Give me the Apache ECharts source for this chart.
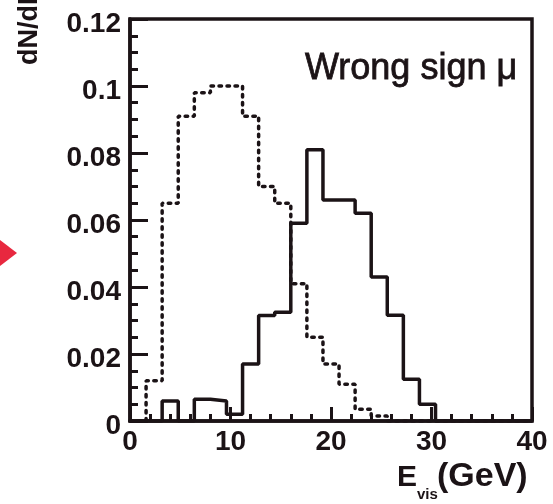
<!DOCTYPE html>
<html>
<head>
<meta charset="utf-8">
<script src="https://cdn.jsdelivr.net/npm/echarts@6/dist/echarts.min.js"></script>
<style>
html,body{margin:0;padding:0;background:#fff;}
#chart{width:553px;height:504px;}
</style>
</head>
<body>
<div id="chart"></div>
<script>
// Histogram bin edges (GeV)
const binEdges = [0, 1.6, 3.2, 4.8, 6.4, 8.0, 9.6, 11.2, 12.8, 14.4, 16.0, 17.6, 19.2, 20.8, 22.4, 24.0, 25.6, 27.2, 28.8, 30.4, 32.0, 33.6, 35.2, 36.8, 38.4, 40.0];
// Dashed histogram values per bin
const dashedValues = [0, 0.012, 0.065, 0.091, 0.098, 0.100, 0.100, 0.091, 0.070, 0.065, 0.041, 0.025, 0.017, 0.011, 0.0035, 0.0015, 0, 0, 0, 0, 0, 0, 0, 0, 0];
// Solid histogram values per bin
const solidValues = [0, 0, 0.006, 0, 0.0065, 0.006, 0.002, 0.017, 0.0315, 0.0325, 0.059, 0.081, 0.066, 0.066, 0.062, 0.043, 0.0316, 0.0125, 0.005, 0, 0, 0, 0, 0, 0];
// Axis tick labels
const xTickLabels = ['0', '10', '20', '30', '40'];
const yTickLabels = ['0', '0.02', '0.04', '0.06', '0.08', '0.1', '0.12'];

const INK = '#1b1316';

function stepData(vals) {
  const d = [];
  for (let i = 0; i < vals.length; i++) d.push([binEdges[i], vals[i]]);
  d.push([binEdges[vals.length], 0]);
  return d;
}

const chart = echarts.init(document.getElementById('chart'), null, {renderer: 'canvas'});
const option = {
  animation: false,
  backgroundColor: '#ffffff',
  grid: {
    left: 130, right: 21, top: 19, bottom: 83,
    show: true, borderColor: INK, borderWidth: 3.5, backgroundColor: 'transparent'
  },
  xAxis: {
    type: 'value', min: 0, max: 40, interval: 10,
    axisLine: {show: true, lineStyle: {color: INK, width: 3.5}},
    axisTick: {show: true, inside: true, length: 14, lineStyle: {color: INK, width: 3}},
    minorTick: {show: true, splitNumber: 5, length: 7, lineStyle: {color: INK, width: 3}},
    splitLine: {show: false},
    axisLabel: {
      margin: 7, color: INK, fontFamily: 'Liberation Sans', fontWeight: 'bold', fontSize: 28,
      formatter: function (v) { return xTickLabels[Math.round(v / 10)]; }
    }
  },
  yAxis: {
    type: 'value', min: 0, max: 0.12, interval: 0.02,
    axisLine: {show: true, lineStyle: {color: INK, width: 3.5}},
    axisTick: {show: true, inside: true, length: 18, lineStyle: {color: INK, width: 3}},
    minorTick: {show: true, splitNumber: 4, length: 8, lineStyle: {color: INK, width: 3}},
    splitLine: {show: false},
    axisLabel: {
      margin: 9, color: INK, fontFamily: 'Liberation Sans', fontWeight: 'bold', fontSize: 28,
      verticalAlign: 'top', lineHeight: 10,
      formatter: function (v) { return yTickLabels[Math.round(v / 0.02)]; }
    }
  },
  series: [
    {
      name: 'dashed', type: 'line', step: 'end', symbol: 'none',
      data: stepData(dashedValues),
      lineStyle: {color: INK, width: 3.5, type: [2.5, 5.5], cap: 'round'},
      z: 3
    },
    {
      name: 'solid', type: 'line', step: 'end', symbol: 'none',
      data: stepData(solidValues),
      lineStyle: {color: INK, width: 3.5, type: 'solid'},
      z: 4
    }
  ],
  graphic: [
    {
      type: 'text', x: 305, y: 69.5,
      style: {text: 'Wrong sign \u03bc', fill: INK, stroke: INK, lineWidth: 0.8, font: '36px "Liberation Sans"', textAlign: 'left', textVerticalAlign: 'middle'}
    },
    {
      type: 'text', x: 30, y: 65, rotation: Math.PI / 2,
      style: {text: 'dN/dE', fill: INK, font: 'bold 27px "Liberation Sans"', textAlign: 'left', textVerticalAlign: 'middle'}
    },
    {
      type: 'text', x: 397, y: 477.5,
      style: {text: 'E', fill: INK, font: 'bold 30px "Liberation Sans"', textAlign: 'left', textVerticalAlign: 'middle'}
    },
    {
      type: 'text', x: 417, y: 495,
      style: {text: 'vis', fill: INK, font: 'bold 15px "Liberation Sans"', textAlign: 'left', textVerticalAlign: 'middle'}
    },
    {
      type: 'text', x: 437, y: 477,
      style: {text: '(GeV)', fill: INK, font: 'bold 34px "Liberation Sans"', textAlign: 'left', textVerticalAlign: 'middle'}
    },
    {
      type: 'polygon',
      shape: {points: [[0, 240], [17, 253], [0, 266]]},
      style: {fill: '#e8283f'}
    }
  ]
};
chart.setOption(option);
</script>
</body>
</html>
